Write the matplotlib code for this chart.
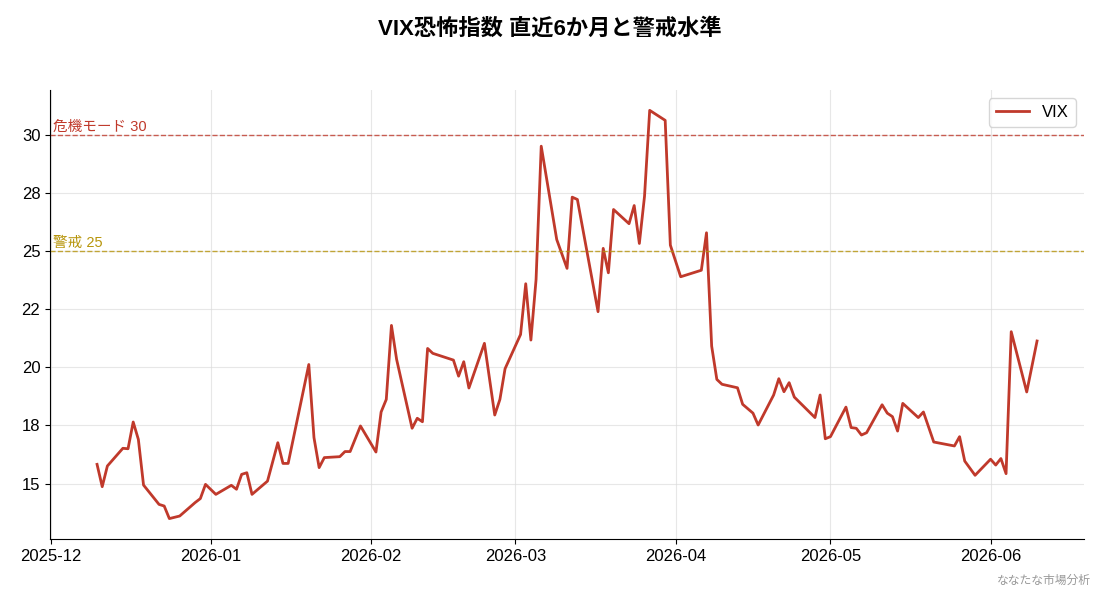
import matplotlib
matplotlib.use("Agg")
import matplotlib.pyplot as plt
import matplotlib.dates as mdates
import matplotlib.ticker as mticker
import matplotlib.transforms as mtransforms
import pandas as pd

plt.rcParams['font.family'] = ['Liberation Sans', 'Noto Sans CJK JP', 'DejaVu Sans']

# VIX終値
dates = [
    "2025-12-10", "2025-12-11", "2025-12-12", "2025-12-15", "2025-12-16",
    "2025-12-17", "2025-12-18", "2025-12-19", "2025-12-22", "2025-12-23",
    "2025-12-24", "2025-12-26", "2025-12-29", "2025-12-30", "2025-12-31",
    "2026-01-02", "2026-01-05", "2026-01-06", "2026-01-07", "2026-01-08",
    "2026-01-09", "2026-01-12", "2026-01-14", "2026-01-15", "2026-01-16",
    "2026-01-20", "2026-01-21", "2026-01-22", "2026-01-23", "2026-01-26",
    "2026-01-27", "2026-01-28", "2026-01-30", "2026-02-02", "2026-02-03",
    "2026-02-04", "2026-02-05", "2026-02-06", "2026-02-09", "2026-02-10",
    "2026-02-11", "2026-02-12", "2026-02-13", "2026-02-17", "2026-02-18",
    "2026-02-19", "2026-02-20", "2026-02-23", "2026-02-25", "2026-02-26",
    "2026-02-27", "2026-03-02", "2026-03-03", "2026-03-04", "2026-03-05",
    "2026-03-06", "2026-03-09", "2026-03-11", "2026-03-12", "2026-03-13",
    "2026-03-17", "2026-03-18", "2026-03-19", "2026-03-20", "2026-03-23",
    "2026-03-24", "2026-03-25", "2026-03-26", "2026-03-27", "2026-03-30",
    "2026-03-31", "2026-04-02", "2026-04-06", "2026-04-07", "2026-04-08",
    "2026-04-09", "2026-04-10", "2026-04-13", "2026-04-14", "2026-04-16",
    "2026-04-17", "2026-04-20", "2026-04-21", "2026-04-22", "2026-04-23",
    "2026-04-24", "2026-04-28", "2026-04-29", "2026-04-30", "2026-05-01",
    "2026-05-04", "2026-05-05", "2026-05-06", "2026-05-07", "2026-05-08",
    "2026-05-11", "2026-05-12", "2026-05-13", "2026-05-14", "2026-05-15",
    "2026-05-18", "2026-05-19", "2026-05-21", "2026-05-25", "2026-05-26",
    "2026-05-27", "2026-05-29", "2026-06-01", "2026-06-02", "2026-06-03",
    "2026-06-04", "2026-06-05", "2026-06-08", "2026-06-10",
]
vix = [
    15.83, 14.87, 15.76, 16.52, 16.50,
    17.65, 16.90, 14.94, 14.11, 14.04,
    13.50, 13.61, 14.19, 14.36, 14.97,
    14.54, 14.93, 14.76, 15.40, 15.47,
    14.54, 15.11, 16.76, 15.87, 15.87,
    20.12, 16.98, 15.69, 16.12, 16.16,
    16.38, 16.38, 17.48, 16.36, 18.08,
    18.62, 21.80, 20.34, 17.38, 17.81,
    17.66, 20.81, 20.60, 20.31, 19.62,
    20.24, 19.11, 21.03, 17.95, 18.62,
    19.94, 21.41, 23.59, 21.17, 23.77,
    29.50, 25.49, 24.25, 27.31, 27.21,
    22.39, 25.11, 24.06, 26.78, 26.17,
    26.95, 25.32, 27.35, 31.04, 30.61,
    25.25, 23.89, 24.17, 25.78, 20.91,
    19.48, 19.27, 19.12, 18.41, 18.03,
    17.52, 18.81, 19.51, 18.95, 19.34,
    18.72, 17.84, 18.81, 16.93, 17.02,
    18.29, 17.41, 17.38, 17.09, 17.19,
    18.39, 18.03, 17.88, 17.26, 18.45,
    17.84, 18.08, 16.79, 16.62, 17.02,
    15.97, 15.36, 16.05, 15.80, 16.08,
    15.43, 21.53, 18.94, 21.13,
]

danger_level = 30
warning_level = 25

x = pd.to_datetime(dates)

fig = plt.figure(figsize=(11, 5.94), dpi=100)
ax = fig.add_axes([0.0455, 0.0926, 0.94, 0.756])

ax.plot(x, vix, color="#c0392b", linewidth=2, label="VIX")

ax.axhline(danger_level, color="#c0392b", linestyle="--", linewidth=1, alpha=0.8)
ax.axhline(warning_level, color="#b7950b", linestyle="--", linewidth=1, alpha=0.8)

trans = mtransforms.blended_transform_factory(ax.transAxes, ax.transData)
ax.text(0.003, danger_level + 0.05, f"危機モード {danger_level}", transform=trans,
        color="#c0392b", fontsize=10.5, va="bottom", ha="left")
ax.text(0.003, warning_level + 0.05, f"警戒 {warning_level}", transform=trans,
        color="#b7950b", fontsize=10.5, va="bottom", ha="left")

# 軸まわり
ax.yaxis.set_major_locator(mticker.MultipleLocator(2.5))
ax.yaxis.set_major_formatter(mticker.StrMethodFormatter("{x:.0f}"))
ax.xaxis.set_major_locator(mdates.MonthLocator())
ax.xaxis.set_major_formatter(mdates.DateFormatter("%Y-%m"))
ax.tick_params(labelsize=12)
ax.grid(True, color="#dddddd", linewidth=0.8, alpha=0.7)
ax.spines["top"].set_visible(False)
ax.spines["right"].set_visible(False)

ax.legend(loc="upper right", fontsize=12)

fig.suptitle("VIX恐怖指数 直近6か月と警戒水準", fontsize=16, fontweight="bold",
             x=0.5, y=0.97)
fig.text(0.992, 0.012, "ななたな市場分析", ha="right", va="bottom",
         fontsize=8.5, color="#999999")

fig.savefig("out.png", dpi=100)
